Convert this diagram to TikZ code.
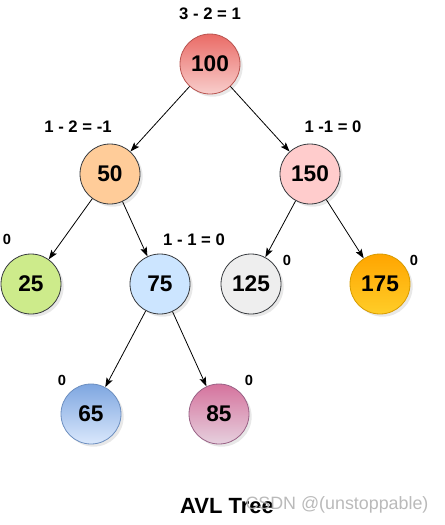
\documentclass[tikz,border=0pt]{standalone}
\usepackage{fontspec}
\setmainfont{Liberation Sans}
\usetikzlibrary{shadows,arrows.meta}
\definecolor{rtop}{HTML}{EA6B66}\definecolor{rbot}{HTML}{F8CECC}\definecolor{rstr}{HTML}{B85450}
\definecolor{gstr}{HTML}{36393D}
\definecolor{c50}{HTML}{FFCC99}\definecolor{c150}{HTML}{FFCCCC}\definecolor{c25}{HTML}{CDEB8B}
\definecolor{c75}{HTML}{CCE5FF}\definecolor{c125}{HTML}{EEEEEE}
\definecolor{otop}{HTML}{FFA500}\definecolor{obot}{HTML}{FFCD28}\definecolor{ostr}{HTML}{D79B00}
\definecolor{btop}{HTML}{7EA6E0}\definecolor{bbot}{HTML}{DAE8FC}\definecolor{bstr}{HTML}{6C8EBF}
\definecolor{ptop}{HTML}{D5739D}\definecolor{pbot}{HTML}{E6D0DE}\definecolor{pstr}{HTML}{996185}
\begin{document}
\begin{tikzpicture}[x=0.75pt,y=-0.75pt,
  treenode/.style={circle,minimum size=45pt,inner sep=0pt,line width=0.6pt,
    font=\fontsize{17}{20}\selectfont\bfseries,
    drop shadow={opacity=0.18,shadow xshift=2pt,shadow yshift=-2pt}},
  eqlabel/.style={font=\fontsize{12.5}{15}\selectfont\bfseries,inner sep=0pt},
  zlabel/.style={font=\fontsize{11}{13}\selectfont\bfseries,inner sep=0pt},
  edge/.style={draw=black,line width=0.6pt,-{Stealth[length=7pt,width=5pt,inset=1.5pt]}}]
\useasboundingbox (0,0) rectangle (444,525);
\node[treenode,draw=rstr,top color=rtop,bottom color=rbot] (n100) at (210,64) {100};
\node[treenode,draw=gstr,fill=c50] (n50) at (110,174) {50};
\node[treenode,draw=gstr,fill=c150] (n150) at (310,174) {150};
\node[treenode,draw=gstr,fill=c25] (n25) at (31,284) {25};
\node[treenode,draw=gstr,fill=c75] (n75) at (160,284) {75};
\node[treenode,draw=gstr,fill=c125] (n125) at (251,284) {125};
\node[treenode,draw=ostr,top color=otop,bottom color=obot] (n175) at (380,284) {175};
\node[treenode,draw=bstr,top color=btop,bottom color=bbot] (n65) at (91,414) {65};
\node[treenode,draw=pstr,top color=ptop,bottom color=pbot] (n85) at (219,414) {85};

\draw[edge] (n100) -- (n50);
\draw[edge] (n100) -- (n150);
\draw[edge] (n50) -- (n25);
\draw[edge] (n50) -- (n75);
\draw[edge] (n150) -- (n125);
\draw[edge] (n150) -- (n175);
\draw[edge] (n75) -- (n65);
\draw[edge] (n75) -- (n85);

\node[eqlabel] (l100) at (210,14) {3 - 2 = 1};
\node[eqlabel] (l50) at (78,127) {1 - 2 = -1};
\node[eqlabel] (l150) at (333,127) {1 -1 = 0};
\node[eqlabel] (l75) at (194,240) {1 - 1 = 0};
\node[zlabel] (l25) at (7,239) {0};
\node[zlabel] (l125) at (287,260) {0};
\node[zlabel] (l175) at (414,260) {0};
\node[zlabel] (l65) at (62,380) {0};
\node[zlabel] (l85) at (249,380) {0};

\node[font=\fontsize{16.5}{19}\selectfont\bfseries,inner sep=0pt] (title) at (227,506) {AVL Tree};
\node[font=\fontsize{13.4}{16}\selectfont,text=black!30,opacity=0.9,inner sep=0pt] (wm) at (337,505) {CSDN @(unstoppable)};
\end{tikzpicture}
\end{document}
